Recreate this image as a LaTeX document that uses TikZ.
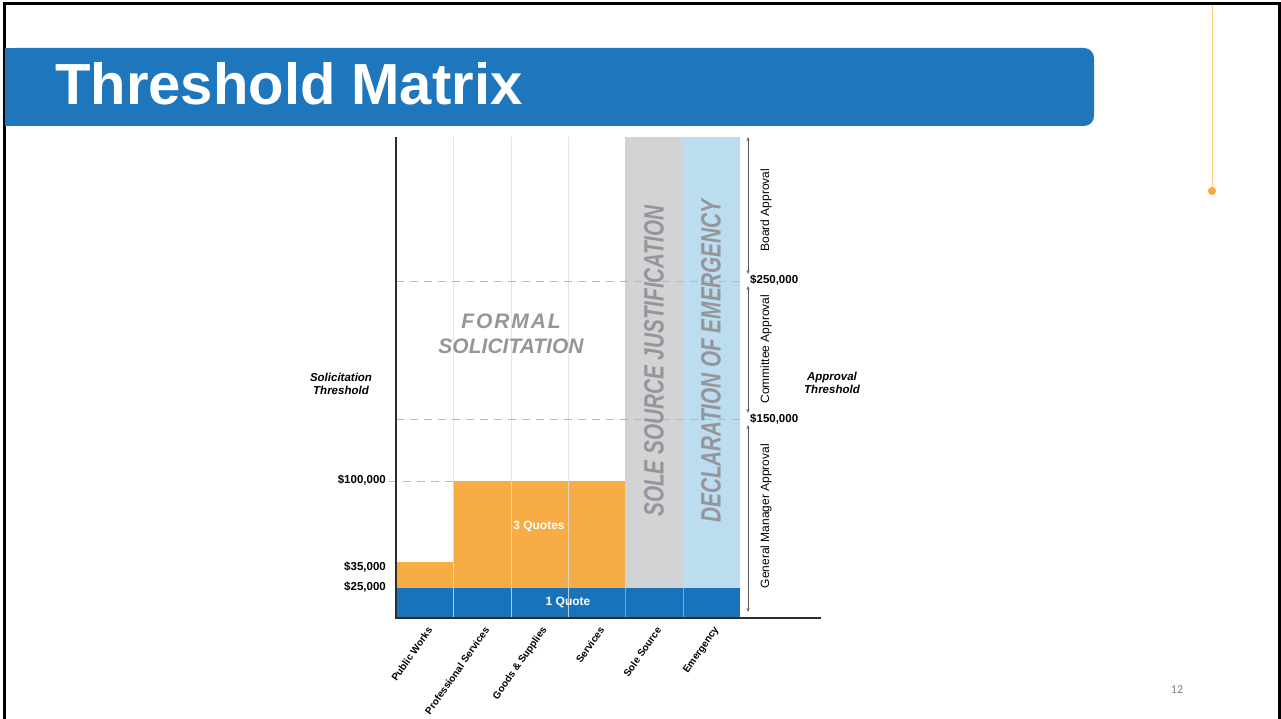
\documentclass[tikz,border=0pt]{standalone}
\usepackage{fontspec}
\setmainfont{Liberation Sans}
\newfontfamily\pagefont{Carlito}
\usetikzlibrary{arrows.meta}
\definecolor{barblue}{RGB}{30,118,188}
\definecolor{bandblue}{RGB}{24,115,186}
\definecolor{quoteorange}{RGB}{247,172,69}
\definecolor{solegray}{RGB}{209,211,212}
\definecolor{emerblue}{RGB}{188,220,240}
\definecolor{captiongray}{RGB}{148,150,153}
\definecolor{gridgray}{RGB}{224,224,224}
\definecolor{axisdark}{RGB}{45,45,45}
\definecolor{accentline}{RGB}{255,203,110}
\definecolor{accentdot}{RGB}{249,170,60}

\tikzset{
  titletext/.style={text=white,font=\bfseries\fontsize{58}{60}\selectfont,inner sep=0pt},
  money/.style={font=\bfseries\fontsize{11.5}{13}\selectfont,inner sep=1pt},
  approval/.style={rotate=90,font=\fontsize{12}{14}\selectfont,inner sep=0pt},
  axistitle/.style={align=center,font=\bfseries\itshape\fontsize{11.5}{13.5}\selectfont},
  columnlabel/.style={anchor=east,rotate=55,font=\bfseries\fontsize{10}{12}\selectfont,inner sep=0pt},
  bigcaption/.style={rotate=90,xscale=0.74,text=captiongray,font=\bfseries\itshape\fontsize{28}{32}\selectfont,inner sep=0pt},
  quotetext/.style={text=white,font=\bfseries\fontsize{12}{14}\selectfont},
  gridline/.style={draw=gridgray,line width=0.8pt,opacity=0.8},
  threshold/.style={draw=gray!55,line width=0.8pt,dash pattern=on 8pt off 6pt},
  spanarrow/.style={{Stealth[length=4pt,width=3pt]}-{Stealth[length=4pt,width=3pt]},draw=black!65,line width=0.7pt},
}

\begin{document}
\begin{tikzpicture}[x=1pt,y=-1pt]
\useasboundingbox (0,0) rectangle (1281,719);
\fill[white] (0,0) rectangle (1281,719);
\draw[line width=3pt] (4,725) -- (4,4) -- (1279,4) -- (1279,725);

\fill[barblue,rounded corners=10pt] (5,48) rectangle (1094,126);
\fill[barblue] (5,48) rectangle (60,126);
\node[titletext,anchor=base west] (title) at (55,105) {Threshold Matrix};

\node[circle,fill=accentdot,minimum size=8pt,inner sep=0pt] (accentdot) at (1212,191) {};
\coordinate (accenttop) at (1212,5);
\draw[accentline,line width=1pt] (accenttop) -- (accentdot);

\fill[solegray] (625,137) rectangle (683,588);
\fill[emerblue] (683,137) rectangle (740,588);
\fill[quoteorange] (396,562) rectangle (453,588);
\fill[quoteorange] (453,481) rectangle (625,588);
\fill[bandblue] (396,588) rectangle (740,618);

\draw[gridline] (453,137) -- (453,618);
\draw[gridline] (511,137) -- (511,618);
\draw[gridline] (568,137) -- (568,618);
\draw[gridline,opacity=0.5] (625,588) -- (625,618);
\draw[gridline,opacity=0.5] (683,588) -- (683,618);

\draw[threshold] (396,281) -- (745,281);
\draw[threshold] (396,419) -- (745,419);
\draw[threshold] (389,481) -- (453,481);

\draw[axisdark,line width=2pt] (396,137) -- (396,619);
\draw[axisdark,line width=1.5pt] (395,618) -- (821,618);

\node[money,anchor=west] (board) at (749,280) {\$250,000};
\node[money,anchor=west] (committee) at (749,419) {\$150,000};
\node[money,anchor=east] (formal) at (387,480) {\$100,000};
\node[money,anchor=east] (threequote) at (387,567) {\$35,000};
\node[money,anchor=east] (onequote) at (387,587) {\$25,000};

\coordinate (boardtop) at (748,137);
\coordinate (boardbot) at (748,274);
\coordinate (committeetop) at (748,286);
\coordinate (committeebot) at (748,413);
\coordinate (managertop) at (748,425);
\coordinate (managerbot) at (748,612);
\draw[spanarrow] (boardtop) -- (boardbot);
\draw[spanarrow] (committeetop) -- (committeebot);
\draw[spanarrow] (managertop) -- (managerbot);

\node[approval] (boardlabel) at (766,210) {Board Approval};
\node[approval] (committeelabel) at (766,349) {Committee Approval};
\node[approval] (managerlabel) at (766,516) {General Manager Approval};

\node[axistitle] (solicitation) at (341,384) {Solicitation\\Threshold};
\node[axistitle] (approvalaxis) at (832,383) {Approval\\Threshold};

\node[align=center,text=captiongray,font=\bfseries\itshape\fontsize{21}{25}\selectfont] (formalcap) at (511,334) {{\addfontfeature{LetterSpace=9}FORMAL}\\SOLICITATION};
\node[bigcaption] (solecap) at (654,361) {SOLE SOURCE JUSTIFICATION};
\node[bigcaption] (emercap) at (711,361) {DECLARATION OF EMERGENCY};

\node[quotetext] (threelabel) at (539,526) {3 Quotes};
\node[quotetext] (onelabel) at (568,602) {1 Quote};

\node[columnlabel] (publicworks) at (430,628) {Public Works};
\node[columnlabel] (professional) at (487,628) {Professional Services};
\node[columnlabel] (goods) at (545,628) {Goods \& Supplies};
\node[columnlabel] (services) at (602,628) {Services};
\node[columnlabel] (solesource) at (659,628) {Sole Source};
\node[columnlabel] (emergency) at (717,628) {Emergency};

\node[text=gray,font=\pagefont\fontsize{12}{14}\selectfont] (pagenum) at (1177,690) {12};
\end{tikzpicture}
\end{document}
